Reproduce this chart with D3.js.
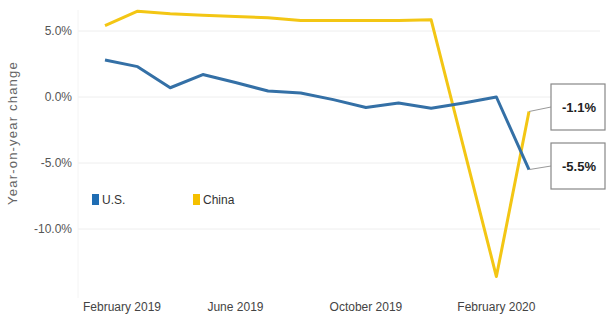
<!DOCTYPE html>
<html>
<head>
<meta charset="utf-8">
<script src="https://cdn.jsdelivr.net/npm/d3@7"></script>
<style>
  html, body { margin: 0; padding: 0; background: #fff; }
  svg { display: block; font-family: "Liberation Sans Narrow", "Liberation Sans", Arial, sans-serif; }
</style>
</head>
<body>
<svg id="chart" width="606" height="325"></svg>
<script>
// ── Data ──────────────────────────────────────────────────────────────────────
// month index 0 = February 2019 ... 13 = March 2020
const monthIdx   = [0, 1, 2, 3, 4, 5, 6, 7, 8, 9, 10, 11, 12, 13];
const usValues   = [2.8, 2.3, 0.7, 1.7, 1.1, 0.45, 0.3, -0.2, -0.8, -0.45, -0.85, -0.45, 0.0, -5.5];
// China has no January 2020 figure (Jan-Feb reported together)
const chinaValues = [5.4, 6.5, 6.3, 6.2, 6.1, 6.0, 5.8, 5.8, 5.8, 5.8, 5.85, null, -13.6, -1.1];
const yTicks     = [5, 0, -5, -10];
const xTickIdx   = [0, 4, 8, 12];
const xTickText  = ['February 2019', 'June 2019', 'October 2019', 'February 2020'];
const callouts   = [{ label: '-1.1%', series: 'china' }, { label: '-5.5%', series: 'us' }];

const US_COLOR    = '#3470a6';
const CHINA_COLOR = '#f3c614';

// ── Scales ────────────────────────────────────────────────────────────────────
const svg = d3.select('#chart');
const x = d3.scaleLinear().domain([0, 13]).range([105, 529]);
const y = d3.scaleLinear().domain([-15, 5]).range([295, 31]);

// ── Grid + y labels ───────────────────────────────────────────────────────────
svg.append('g').selectAll('line')
  .data(yTicks)
  .join('line')
  .attr('x1', 78).attr('x2', 600)
  .attr('y1', d => y(d)).attr('y2', d => y(d))
  .attr('stroke', '#eeeeee').attr('stroke-width', 1);

svg.append('line')
  .attr('x1', 78).attr('x2', 78).attr('y1', 10).attr('y2', 298)
  .attr('stroke', '#f4f4f4');

svg.append('g').selectAll('text')
  .data(yTicks)
  .join('text')
  .attr('x', 72).attr('y', d => y(d))
  .attr('dy', '0.35em')
  .attr('text-anchor', 'end')
  .attr('font-size', 12).attr('fill', '#555')
  .text(d => d3.format('.1f')(d).replace('\u2212', '-') + '%');

svg.append('text')
  .attr('transform', 'translate(17,133) rotate(-90)')
  .attr('text-anchor', 'middle')
  .attr('font-size', 13).attr('letter-spacing', 1.2).attr('fill', '#666')
  .text('Year-on-year change');

// ── X labels ──────────────────────────────────────────────────────────────────
svg.append('g').selectAll('text')
  .data(xTickIdx)
  .join('text')
  .attr('x', d => x(d)).attr('y', 311)
  .attr('dx', (d, i) => i === 0 ? 17 : 0)
  .attr('text-anchor', 'middle')
  .attr('font-size', 12).attr('fill', '#444')
  .text((d, i) => xTickText[i]);

// ── Lines ─────────────────────────────────────────────────────────────────────
const line = d3.line().x(d => x(d.i)).y(d => y(d.v));
const usPts    = monthIdx.map((i, k) => ({ i, v: usValues[k] }));
const chinaPts = monthIdx.map((i, k) => ({ i, v: chinaValues[k] })).filter(d => d.v != null);

svg.append('path').datum(chinaPts)
  .attr('d', line).attr('fill', 'none')
  .attr('stroke', CHINA_COLOR).attr('stroke-width', 3)
  .attr('stroke-linejoin', 'round');

svg.append('path').datum(usPts)
  .attr('d', line).attr('fill', 'none')
  .attr('stroke', US_COLOR).attr('stroke-width', 3)
  .attr('stroke-linejoin', 'round');

// ── Legend ────────────────────────────────────────────────────────────────────
const legend = [{ name: 'U.S.', color: '#1f6db3', x: 92 }, { name: 'China', color: '#f5c000', x: 193 }];
const lg = svg.append('g').selectAll('g').data(legend).join('g')
  .attr('transform', d => `translate(${d.x},194)`);
lg.append('rect').attr('width', 7).attr('height', 11).attr('fill', d => d.color);
lg.append('text').attr('x', 10).attr('y', 6).attr('dy', '0.35em')
  .attr('font-size', 12).attr('fill', '#333').text(d => d.name);

// ── Callouts ──────────────────────────────────────────────────────────────────
const lastIdx = monthIdx[monthIdx.length - 1];
const boxTop = [84, 143];
callouts.forEach((c, k) => {
  const v = c.series === 'us' ? usValues[usValues.length - 1] : chinaValues[chinaValues.length - 1];
  const by = boxTop[k], bh = 46;
  svg.append('line')
    .attr('x1', x(lastIdx)).attr('y1', y(v))
    .attr('x2', 551).attr('y2', by + bh / 2)
    .attr('stroke', '#999').attr('stroke-width', 1);
  svg.append('rect')
    .attr('x', 551).attr('y', by).attr('width', 54).attr('height', bh)
    .attr('fill', '#fff').attr('stroke', '#888').attr('stroke-width', 1.2);
  svg.append('text')
    .attr('x', 579).attr('y', by + bh / 2).attr('dy', '0.35em')
    .attr('text-anchor', 'middle')
    .attr('font-size', 13).attr('font-weight', 'bold').attr('fill', '#222')
    .text(c.label);
});
</script>
</body>
</html>
